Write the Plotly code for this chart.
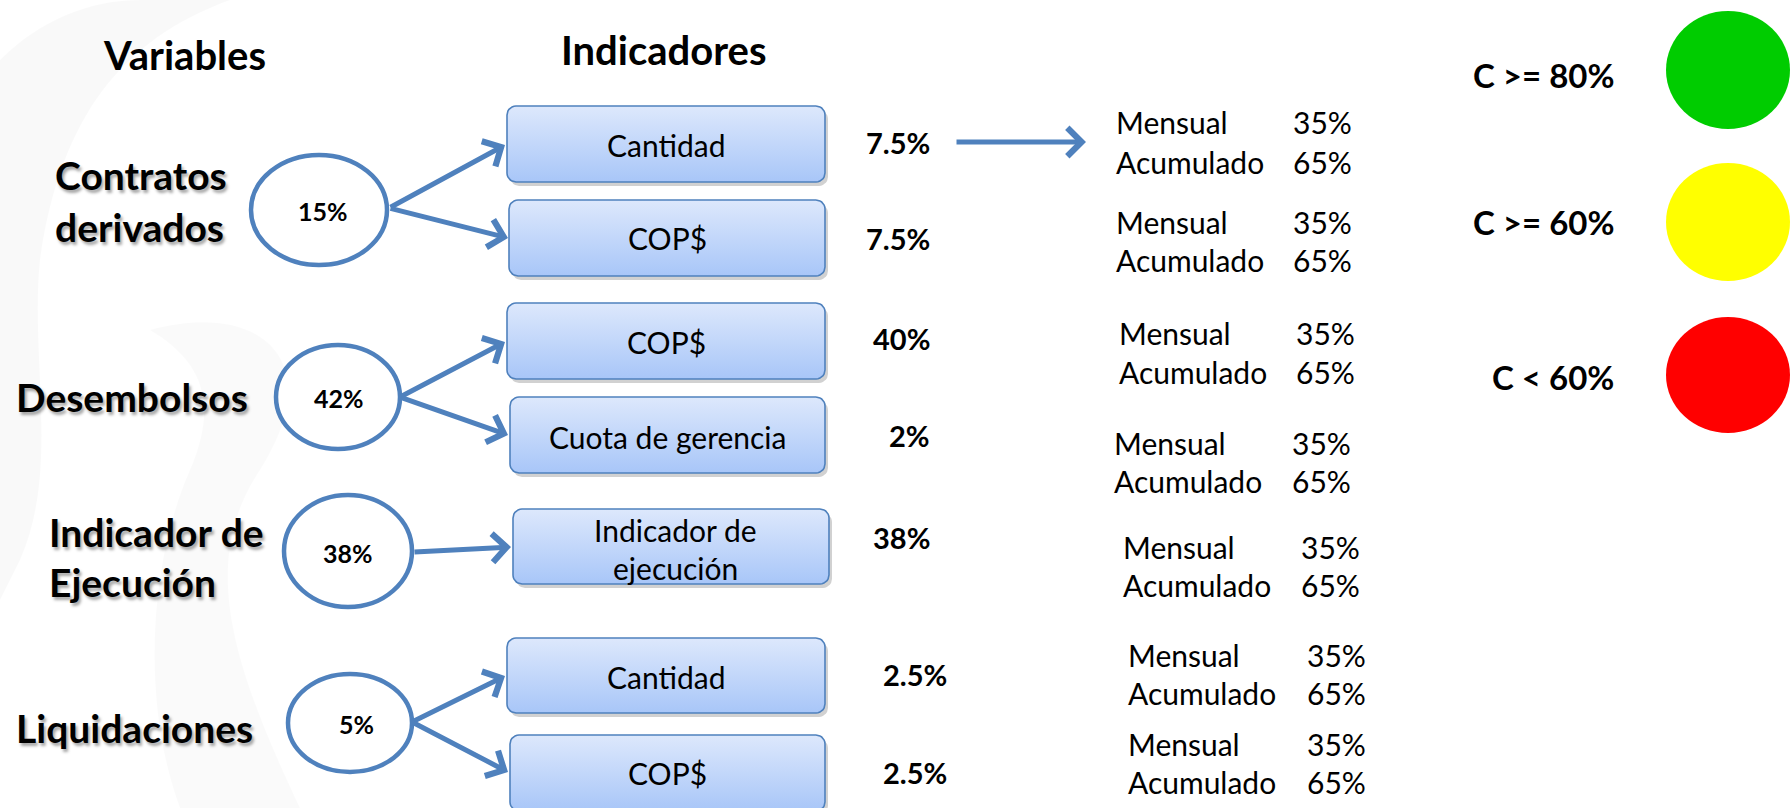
import plotly.graph_objects as go
import numpy as np

# ---------------- data ----------------
variables = ["Contratos<br>derivados", "Desembolsos", "Indicador de<br>Ejecución", "Liquidaciones"]
variable_weights = ["15%", "42%", "38%", "5%"]
indicators = ["Cantidad", "COP$", "COP$", "Cuota de gerencia",
              "Indicador de<br>ejecución", "Cantidad", "COP$"]
indicator_weights = ["7.5%", "7.5%", "40%", "2%", "38%", "2.5%", "2.5%"]
indicator_parent = [0, 0, 1, 1, 2, 3, 3]
mensual = [35, 35, 35, 35, 35, 35, 35]
acumulado = [65, 65, 65, 65, 65, 65, 65]
thresholds = ["C >= 80%", "C >= 60%", "C < 60%"]
threshold_colors = ["#00CC00", "#FFFF00", "#FF0000"]
headers = ["Variables", "Indicadores"]

# ---------------- layout constants (pixel space) ----------------
W, H = 1792, 808
FONT = "Lato, 'Open Sans', sans-serif"
BLUE = "#4F81BD"
header_pos = [(184, 55), (664, 50)]
var_text_pos = [(53, [175, 227]), (14, [397]), (47, [532, 582]), (14, [728])]
circ = [(319, 210, 68, 55), (338, 397, 62, 52), (348, 551, 64, 56), (350, 723, 62, 49)]
circ_text = [(323, 211), (339, 398), (348, 553), (356, 724)]
boxes = [(507, 106, 825, 182), (509, 200, 825, 276), (507, 303, 825, 379),
         (510, 397, 825, 473), (513, 509, 829, 584), (507, 638, 825, 713),
         (510, 735, 825, 811)]
box_text_y = [145, 238, 342, 437, 549, 677, 773]
arrow_tail = [(389, 208), (389, 208), (400, 397), (400, 397), (413, 552), (412, 722), (412, 722)]
arrow_tip = [(505, 145), (508, 238), (505, 342), (508, 435), (511, 547), (505, 676), (508, 772)]
wpos = [(932, 142), (932, 238), (932, 338), (932, 435), (932, 537), (949, 674), (949, 772)]
mpos = [(1114, 1291, 122, 162), (1114, 1291, 222, 260), (1117, 1294, 333, 372),
        (1112, 1290, 443, 481), (1121, 1299, 547, 585), (1126, 1305, 655, 693),
        (1126, 1305, 744, 782)]
light_pos = [(1728, 70, 62, 59), (1728, 222, 62, 59), (1728, 375, 62, 58)]
thr_text = [(1616, 75), (1616, 222), (1616, 377)]

fig = go.Figure()
shapes = []
ann = []

# faint background swoosh
shapes.append(dict(type="path", layer="below", line=dict(width=0), fillcolor="rgba(0,0,0,0.022)",
                   path="M0,60 C40,20 90,0 140,0 L230,0 C120,40 60,120 40,260 C30,360 60,470 20,560 L0,600 Z"))
shapes.append(dict(type="path", layer="below", line=dict(width=0), fillcolor="rgba(0,0,0,0.02)",
                   path="M150,330 C260,300 330,360 260,470 C200,560 230,660 300,808 L180,808 C140,700 150,560 190,470 C220,400 200,360 150,330 Z"))


def rrect(x0, y0, x1, y1, r=9, n=8):
    xs, ys = [], []
    corners = [(x1 - r, y0 + r, -90, 0), (x1 - r, y1 - r, 0, 90),
               (x0 + r, y1 - r, 90, 180), (x0 + r, y0 + r, 180, 270)]
    for cx, cy, a0, a1 in corners:
        for a in np.linspace(np.radians(a0), np.radians(a1), n):
            xs.append(cx + r * np.cos(a))
            ys.append(cy + r * np.sin(a))
    xs.append(xs[0]); ys.append(ys[0])
    return xs, ys

# boxes
for i, (x0, y0, x1, y1) in enumerate(boxes):
    sx, sy = rrect(x0 + 3, y0 + 4, x1 + 3, y1 + 4)
    fig.add_trace(go.Scatter(x=sx, y=sy, mode="lines", fill="toself",
                             fillcolor="rgba(0,0,0,0.18)", line=dict(width=0),
                             hoverinfo="skip", showlegend=False))
    bx, by = rrect(x0, y0, x1, y1)
    fig.add_trace(go.Scatter(x=bx, y=by, mode="lines", fill="toself",
                             fillgradient=dict(type="vertical", start=y0, stop=y1,
                                               colorscale=[[0, "#DDE8FC"], [1, "#A8C6F8"]]),
                             line=dict(color=BLUE, width=1.6),
                             hoverinfo="skip", showlegend=False))
    lines = indicators[i].split("<br>")
    if len(lines) == 1:
        ann.append(dict(x=(x0 + x1) / 2, y=box_text_y[i], text=indicators[i], showarrow=False,
                        font=dict(family=FONT, size=30, color="black")))
    else:
        for k, t in enumerate(lines):
            ann.append(dict(x=(x0 + x1) / 2 + 4, y=[530, 568][k], text=t, showarrow=False,
                            font=dict(family=FONT, size=30, color="black")))
    # weight of indicator
    ann.append(dict(x=wpos[i][0], y=wpos[i][1], text="<b>%s</b>" % indicator_weights[i],
                    showarrow=False, xanchor="right",
                    font=dict(family=FONT, size=29, color="black")))
    # mensual / acumulado
    mx, px, my, ay = mpos[i]
    for xx, yy, t in [(mx, my, "Mensual"), (px, my, "%d%%" % mensual[i]),
                      (mx, ay, "Acumulado"), (px, ay, "%d%%" % acumulado[i])]:
        ann.append(dict(x=xx, y=yy, text=t, xanchor="left", showarrow=False,
                        font=dict(family=FONT, size=30, color="black")))
    # arrow from variable circle
    ann.append(dict(x=arrow_tip[i][0], y=arrow_tip[i][1], ax=arrow_tail[i][0], ay=arrow_tail[i][1],
                    xref="x", yref="y", axref="x", ayref="y", text="", showarrow=True,
                    arrowhead=4, arrowsize=1.1, arrowwidth=5, arrowcolor=BLUE, standoff=0))

# arrow from the first weight to the Mensual block
ann.append(dict(x=1086, y=142, ax=955, ay=142, xref="x", yref="y", axref="x", ayref="y",
                text="", showarrow=True, arrowhead=4, arrowsize=1.1, arrowwidth=5,
                arrowcolor=BLUE, standoff=0))

# variable circles & labels
for j, (cx, cy, rx, ry) in enumerate(circ):
    shapes.append(dict(type="circle", x0=cx - rx, x1=cx + rx, y0=cy - ry, y1=cy + ry,
                       line=dict(color=BLUE, width=4.5), fillcolor="white", layer="above"))
    ann.append(dict(x=circ_text[j][0], y=circ_text[j][1], text="<b>%s</b>" % variable_weights[j],
                    showarrow=False, font=dict(family=FONT, size=25, color="black")))
    lx, ys = var_text_pos[j]
    for t, yy in zip(variables[j].split("<br>"), ys):
        ann.append(dict(x=lx, y=yy, text="<b>%s</b>" % t, xanchor="left", showarrow=False,
                        font=dict(family=FONT, size=39, color="black",
                                  shadow="2px 3px 3px rgba(0,0,0,0.35)")))

# headers
for t, (hx, hy) in zip(headers, header_pos):
    ann.append(dict(x=hx, y=hy, text="<b>%s</b>" % t, showarrow=False,
                    font=dict(family=FONT, size=40, color="black")))

# traffic lights
for k, (cx, cy, rx, ry) in enumerate(light_pos):
    shapes.append(dict(type="circle", x0=cx - rx, x1=cx + rx, y0=cy - ry, y1=cy + ry,
                       line=dict(width=0), fillcolor=threshold_colors[k]))
    ann.append(dict(x=thr_text[k][0], y=thr_text[k][1], text="<b>%s</b>" % thresholds[k],
                    xanchor="right", showarrow=False,
                    font=dict(family=FONT, size=33, color="black")))

fig.update_layout(
    width=W, height=H, margin=dict(l=0, r=0, t=0, b=0),
    paper_bgcolor="white", plot_bgcolor="white",
    xaxis=dict(range=[0, W], visible=False, fixedrange=True),
    yaxis=dict(range=[H, 0], visible=False, fixedrange=True),
    shapes=shapes, annotations=ann, hovermode=False, showlegend=False,
)
fig.write_html("out.html", config=dict(displayModeBar=False),
               post_script="document.body.style.margin='0';document.body.style.overflow='hidden';")
